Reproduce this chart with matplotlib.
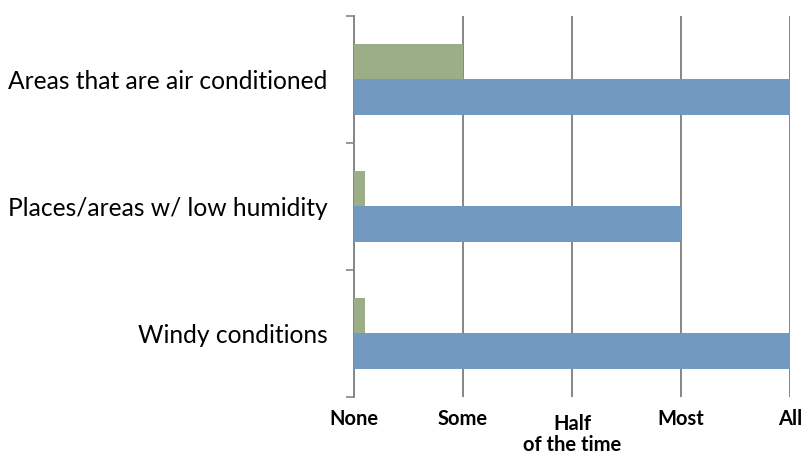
import numpy as np
import matplotlib.pyplot as plt
import matplotlib.transforms as mtransforms

# data
categories = ["Areas that are air conditioned", "Places/areas w/ low humidity", "Windy conditions"]
green_vals = [1.0, 0.1, 0.1]
blue_vals = [4.0, 3.0, 4.0]
tick_labels = ["None", "Some", "Half\nof the time", "Most", "All"]

plt.rcParams['font.family'] = ['Lato', 'DejaVu Sans']

fig = plt.figure(figsize=(8.03, 4.57), dpi=100)
ax = fig.add_axes([0.4408, 0.1313, 0.543, 0.8337])

y = np.arange(len(categories))
h = 0.283
ax.barh(y - h / 2, green_vals, height=h, color="#9bae87", zorder=3)
ax.barh(y + h / 2, blue_vals, height=h, color="#7299bf", zorder=3)

ax.set_xlim(0, 4)
ax.set_ylim(len(categories) - 0.5, -0.5)

# vertical gridlines
ax.set_xticks(range(5))
ax.set_xticklabels(tick_labels, fontsize=14.5, fontweight="bold", linespacing=1.05)
ax.tick_params(axis="x", length=0, pad=9)
ax.grid(axis="x", color="#868686", linewidth=1.4, zorder=0)
# "Half" label sits a bit lower in the reference
lbl = ax.get_xticklabels()[2]
lbl.set_transform(lbl.get_transform() + mtransforms.ScaledTranslation(0, -5 / 100, fig.dpi_scale_trans))

# category boundary ticks and centred labels
ax.set_yticks(np.arange(-0.5, len(categories), 1.0))
ax.set_yticklabels([])
ax.set_yticks(y, minor=True)
ax.set_yticklabels(categories, minor=True, fontsize=17.7)
ax.tick_params(axis="y", which="major", length=6, color="#868686", width=1.2)
ax.tick_params(axis="y", which="minor", length=0, pad=19)

for s in ["top", "right", "bottom"]:
    ax.spines[s].set_visible(False)
ax.spines["left"].set_color("#868686")
ax.spines["left"].set_linewidth(1.4)

fig.savefig("out.png", dpi=100)
